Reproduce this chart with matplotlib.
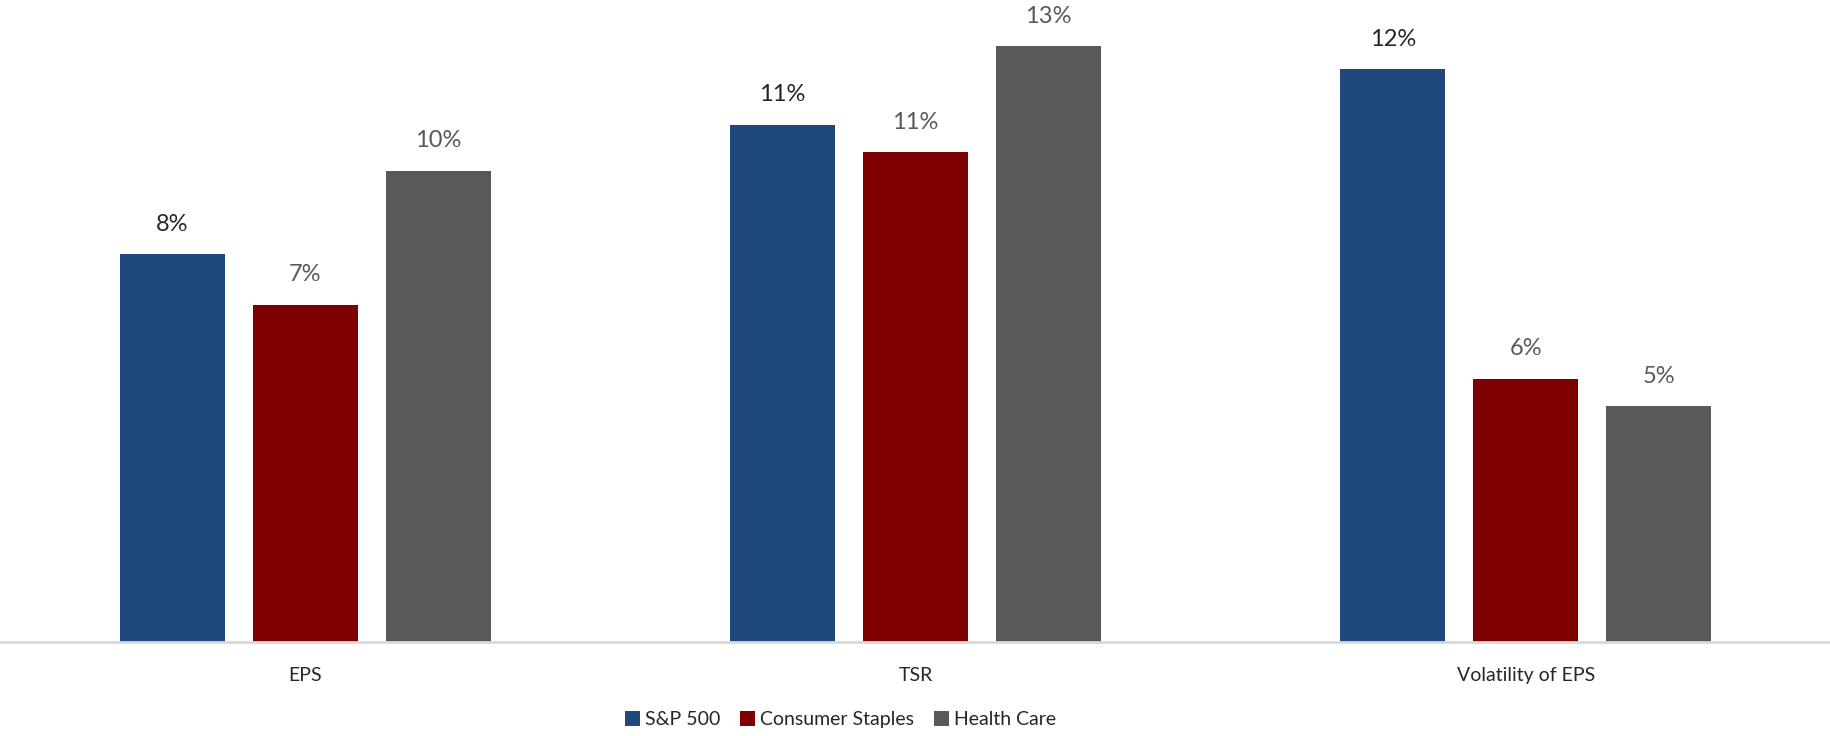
import numpy as np
import matplotlib.pyplot as plt

categories = ['EPS', 'TSR', 'Volatility of EPS']
series = ['S&P 500', 'Consumer Staples', 'Health Care']
sp500 = [8.4, 11.2, 12.4]
staples = [7.3, 10.6, 5.7]
health = [10.2, 12.9, 5.1]

colors = ['#1f497d', '#7f0000', '#595959']
label_colors = ['#262626', '#595959', '#595959']

plt.rcParams['font.family'] = ['Lato', 'DejaVu Sans']

fig = plt.figure(figsize=(18.31, 7.36), dpi=100)
ax = fig.add_axes([0.0, 0.1277, 1.0, 0.8723])

x = np.arange(len(categories))
w = 0.172
step = 0.218
for i, (name, vals) in enumerate(zip(series, [sp500, staples, health])):
    bars = ax.bar(x + (i - 1) * step, vals, w, color=colors[i], label=name)
    for b, v in zip(bars, vals):
        ax.annotate(f'{v:.0f}%', (b.get_x() + b.get_width() / 2, v),
                    xytext=(0, 14), textcoords='offset points',
                    ha='center', va='bottom', fontsize=17, color=label_colors[i])

ax.set_xlim(-0.5, 2.5)
ax.set_ylim(0, 13.9)
ax.set_xticks(x)
ax.set_xticklabels(categories, fontsize=14, color='#262626')
ax.tick_params(axis='x', length=0, pad=18)
ax.set_yticks([])
for s in ['top', 'right', 'left']:
    ax.spines[s].set_visible(False)
ax.spines['bottom'].set_color('#d9d9d9')
ax.spines['bottom'].set_linewidth(2)

fig.legend(loc='center', bbox_to_anchor=(0.459, 0.022), ncol=3, frameon=False,
           fontsize=14, handlelength=0.8, handleheight=0.8, handletextpad=0.25,
           columnspacing=1.0, labelcolor='#262626')

fig.savefig('out.png', dpi=100)
